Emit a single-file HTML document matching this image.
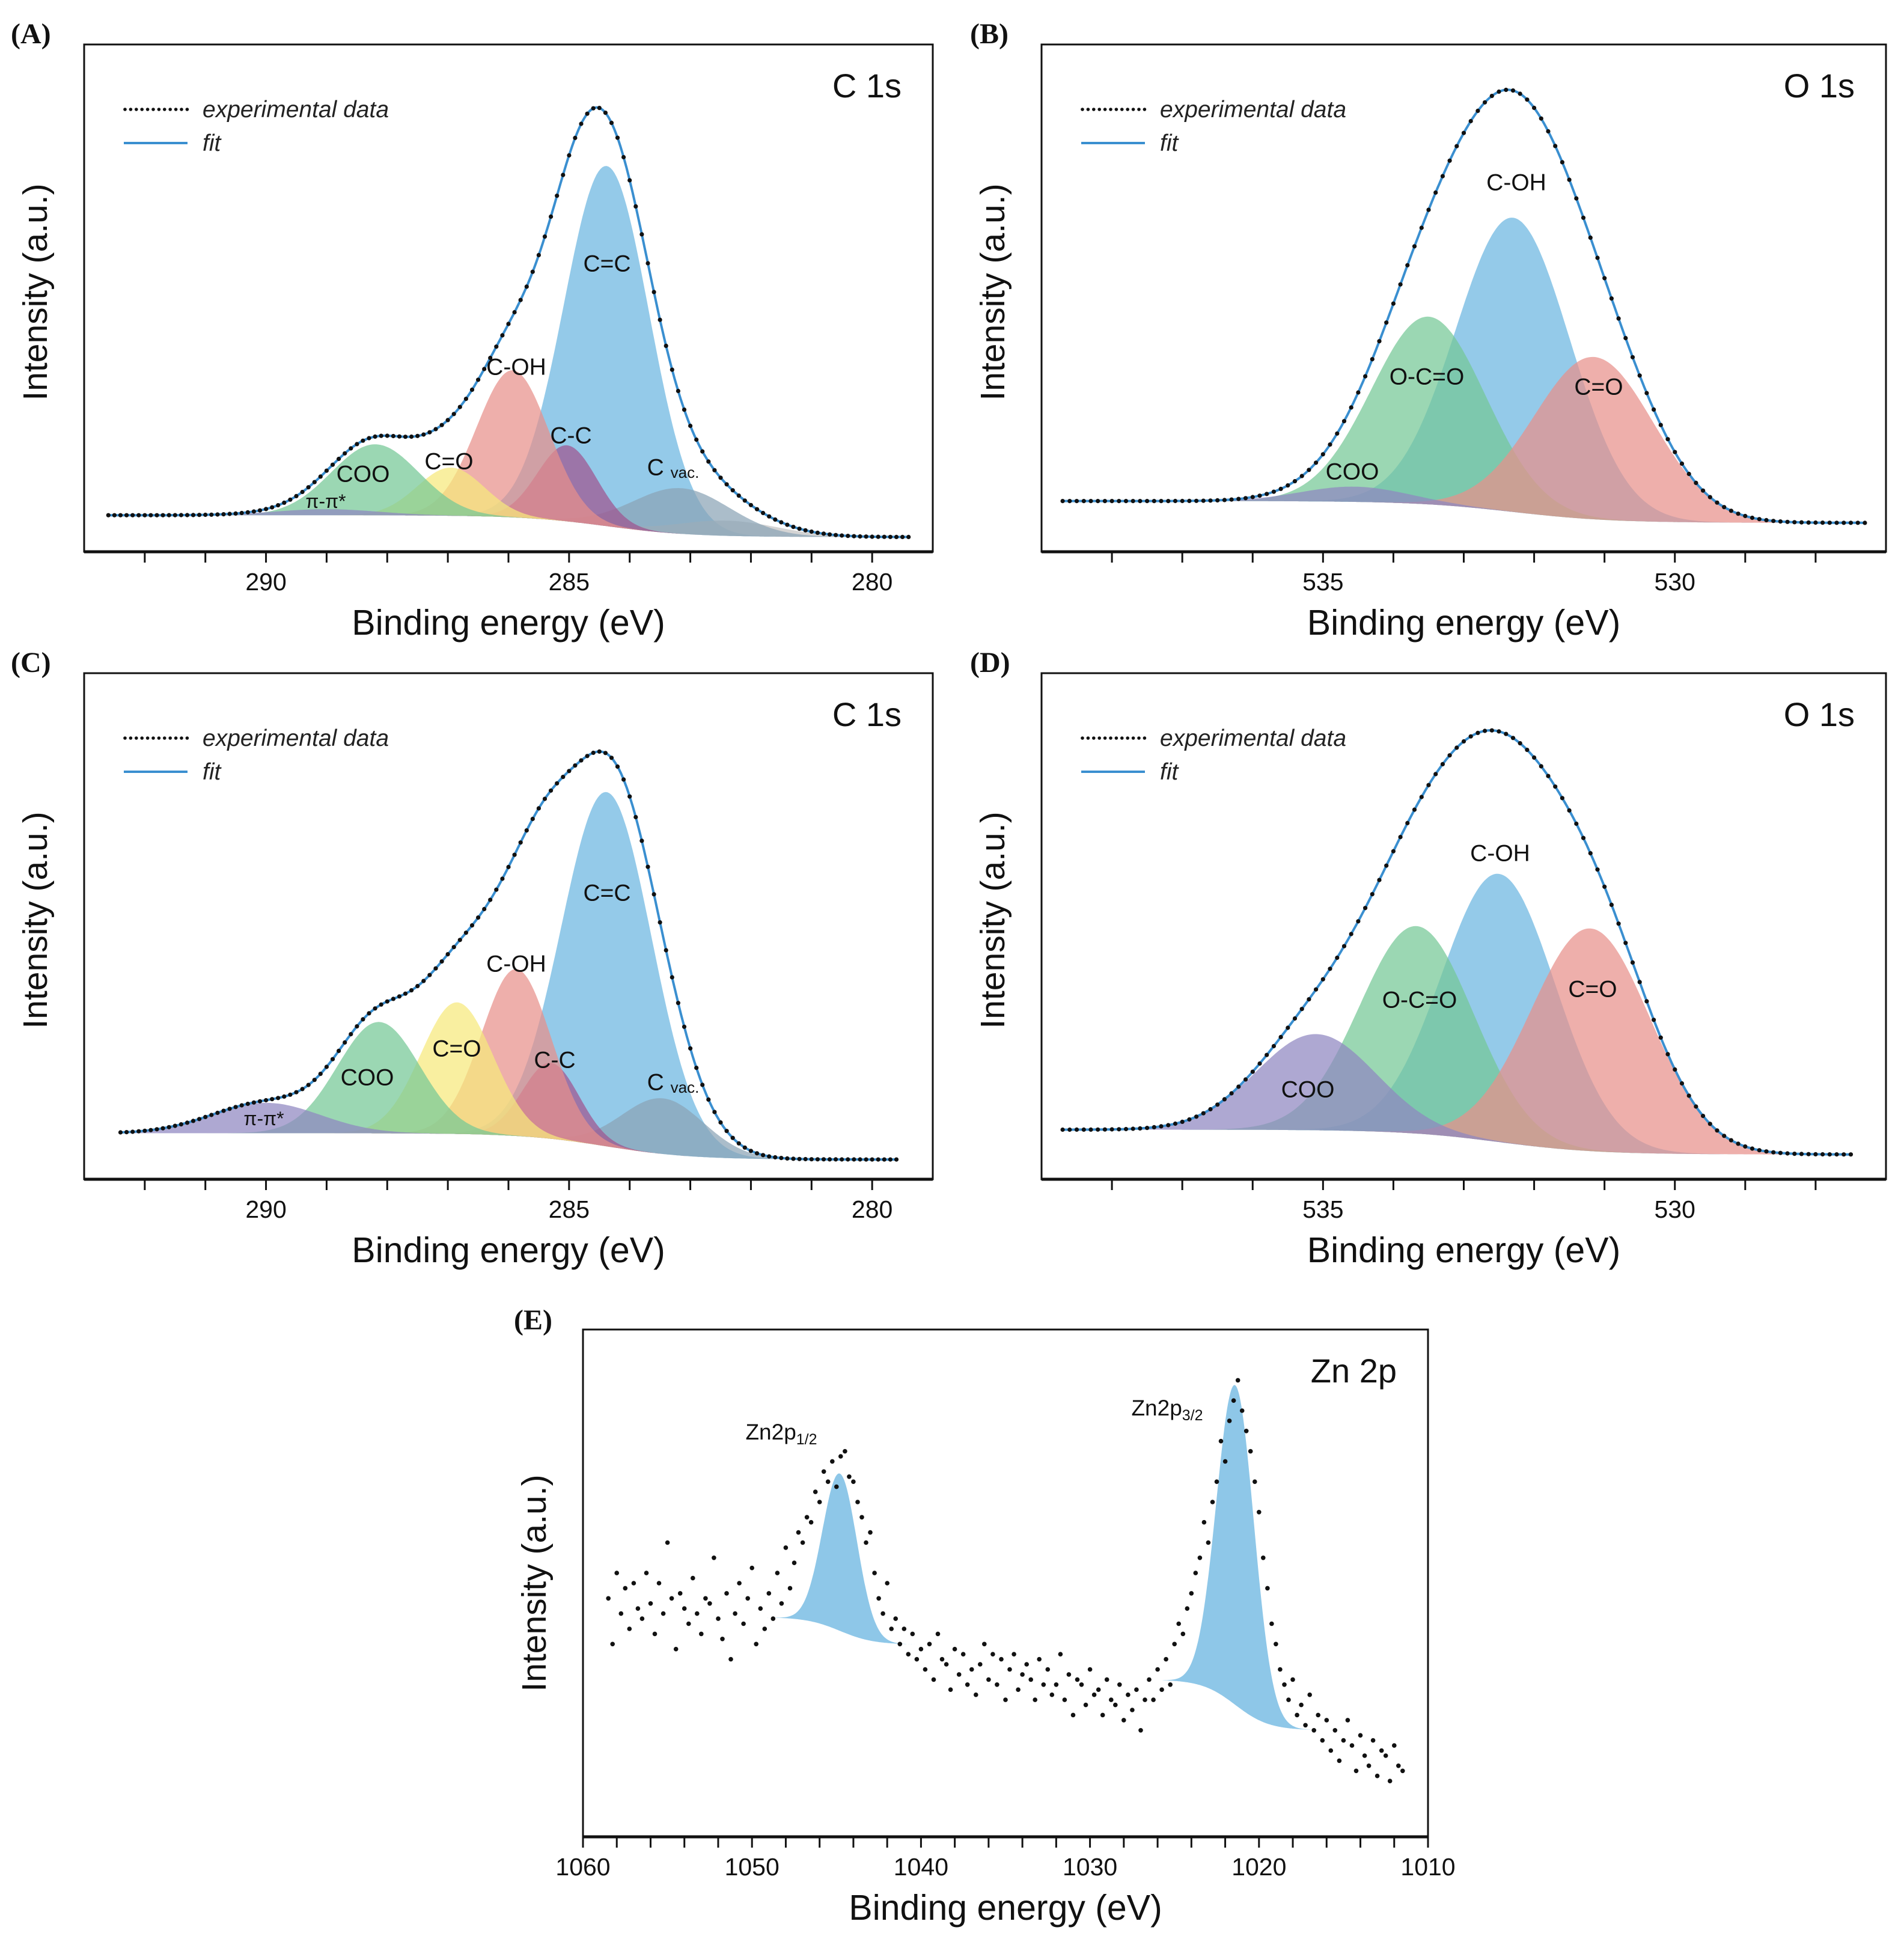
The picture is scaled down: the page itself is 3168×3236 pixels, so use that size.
<!DOCTYPE html>
<html><head><meta charset="utf-8"><style>
html,body{margin:0;padding:0;background:#fff;}
svg{display:block;font-family:"Liberation Sans",Arial,sans-serif;}
</style></head><body>
<svg id="fig" width="3168" height="3236" viewBox="0 0 3168 3236" xmlns="http://www.w3.org/2000/svg"></svg>
<script>
// ---------- Data ----------
// Panel A: C 1s
const aNames   = ["C=C","C-OH","C-C","C=O","COO","π-π*","C vac.","gray"];
const aCenters = [284.38,285.93,285.03,286.95,288.2,289.0,283.15,282.4];
const aHeights = [0.71,0.29,0.15,0.095,0.14,0.012,0.09,0.03];
const aFwhm    = [1.65,1.4,1.15,1.3,1.7,2.0,1.9,2.0];
const aBg      = [0.072,0.029];
// Panel B: O 1s
const bNames   = ["C-OH","O-C=O","C=O","COO"];
const bCenters = [532.3,533.5,531.15,534.55];
const bHeights = [0.58,0.37,0.32,0.03];
const bFwhm    = [1.9,1.9,2.0,1.8];
const bBg      = [0.10,0.057];
// Panel C: C 1s
const cNames   = ["C=C","C-OH","C-C","C=O","COO","π-π*","C vac."];
const cCenters = [284.38,285.87,285.3,286.85,288.14,290.0,283.45];
const cHeights = [0.70,0.33,0.15,0.26,0.22,0.06,0.11];
const cFwhm    = [1.75,1.35,1.1,1.4,1.6,2.1,1.6];
const cBg      = [0.091,0.039];
// Panel D: O 1s
const dNames   = ["C-OH","O-C=O","C=O","COO"];
const dCenters = [532.5,533.67,531.2,535.1];
const dHeights = [0.53,0.41,0.44,0.19];
const dFwhm    = [1.9,1.9,2.0,2.0];
const dBg      = [0.098,0.049];
// Panel E: Zn 2p
const eStart = 1058.5, eStep = 0.25;
const eValues = [
.47,.38,.52,.44, .49,.41,.50,.45, .43,.52,.46,.40, .50,.44,.58,.47, .37,.48,.45,.42,
.51,.44,.40,.47, .46,.55,.43,.39, .48,.35,.44,.50, .42,.47,.53,.38, .45,.41,.48,.43,
.52,.46,.57,.49, .54,.60,.58,.63, .62,.68,.66,.72, .70,.74,.69,.75, .76,.71,.70,.66,
.63,.58,.60,.52, .47,.44,.50,.41, .43,.38,.41,.36, .40,.35,.37,.33, .38,.31,.40,.35,
.34,.29,.37,.32, .36,.30,.33,.28, .34,.38,.31,.36, .30,.35,.27,.33, .36,.29,.32,.34,
.31,.27,.35,.30, .33,.28,.30,.36, .27,.32,.24,.31, .30,.26,.33,.28, .29,.24,.31,.27,
.26,.30,.23,.28, .25,.29,.21,.27, .31,.27,.33,.29, .35,.30,.38,.42, .40,.45,.48,.52,
.55,.62,.58,.66, .70,.78,.74,.82, .86,.90,.84,.80, .76,.70,.64,.55, .49,.42,.38,.33,
.30,.27,.31,.24, .26,.22,.28,.21, .24,.19,.23,.17, .21,.15,.19,.23, .18,.13,.20,.16,
.14,.19,.12,.17, .16,.11,.18,.14, .13];
const eNames   = ["Zn2p1/2","Zn2p3/2"];
const eCenters = [1044.8,1021.4];
const eHeights = [0.31,0.63];
const eFwhm    = [2.4,2.6];
const eBgL     = [0.433,0.31];
const eBgR     = [0.379,0.21];

// ---------- Helpers ----------
const NS="http://www.w3.org/2000/svg";
const svg=document.getElementById('fig');
function mk(tag,attrs,parent){const e=document.createElementNS(NS,tag);for(const k in attrs)e.setAttribute(k,attrs[k]);(parent||svg).appendChild(e);return e;}
function gauss(x,c,h,w){return h*Math.exp(-4*Math.LN2*(x-c)*(x-c)/(w*w));}
function bgStep(ev,c,bl,br){return br+(bl-br)/(1+Math.exp(-(ev-c)/0.7));}

function drawAxes(p){
  const g=mk('g',{});
  
  
  const fr=mk('rect',{x:p.x0,y:p.y0,width:p.x1-p.x0,height:p.y1-p.y0,fill:'none',stroke:'#111','stroke-width':3},g);
  
  
  const bl=mk('line',{x1:p.x0,y1:p.y1,x2:p.x1,y2:p.y1,stroke:'#111','stroke-width':5},g);
  
  
  for(let t=p.tickStart;t>=p.tickEnd-1e-9;t-=p.tickStep){
    const x=p.X(t);
    const tk=mk('line',{x1:x,y1:p.y1,x2:x,y2:p.y1+18,stroke:'#111','stroke-width':3},g);
    
    
  }
  p.labels.forEach(v=>{
    const t=mk('text',{x:p.X(v),y:p.y1+64,'font-size':41,'text-anchor':'middle',fill:'#111'},g);
    t.textContent=v;
    
    
  });
  const xt=mk('text',{x:(p.x0+p.x1)/2,y:p.y1+138,'font-size':59,'text-anchor':'middle',fill:'#111'},g);
  xt.textContent='Binding energy (eV)';
  
  
  const cy=(p.y0+p.y1)/2-(p.id==='panel-e'?0:10);
  const yt=mk('text',{x:p.x0-62,y:cy,'font-size':57,'text-anchor':'middle',fill:'#111',transform:`rotate(-90 ${p.x0-62} ${cy})`},g);
  yt.textContent='Intensity (a.u.)';
  
  
  const pl=mk('text',{x:p.lx,y:p.ly,'font-size':48,'font-weight':'bold','font-family':'"Liberation Serif",serif',fill:'#111'},g);
  pl.textContent=p.letter;
  
  
  const ti=mk('text',{x:p.x1-52,y:p.y0+88,'font-size':56,'text-anchor':'end',fill:'#111'},g);
  ti.textContent=p.title;
  
  
}

function drawLegend(p){
  const g=mk('g',{});
  
  
  const ly=p.y0+108;
  for(let i=0;i<12;i++){
    const d=mk('circle',{cx:p.x0+68+i*9.4,cy:ly,r:2.8,fill:'#111'},g);
    
    
  }
  const t1=mk('text',{x:p.x0+197,y:ly+13,'font-size':39,'font-style':'italic',fill:'#222'},g);
  t1.textContent='experimental data';
  
  
  const l=mk('line',{x1:p.x0+66,y1:ly+56,x2:p.x0+172,y2:ly+56,stroke:'#3a8fd0','stroke-width':4},g);
  
  
  const t2=mk('text',{x:p.x0+197,y:ly+69,'font-size':39,'font-style':'italic',fill:'#222'},g);
  t2.textContent='fit';
  
  
}

function drawFitPanel(p,names,centers,heights,fwhm,bg,colors,order,labelPos,dataRange){
  const mainC=centers[0];
  const bgf=ev=>bgStep(ev,mainC,bg[0],bg[1]);
  const lo=dataRange[1], hi=dataRange[0];
  const N=400;
  const evs=[];for(let i=0;i<=N;i++)evs.push(hi-(hi-lo)*i/N);
  order.forEach(k=>{
    let d='';
    evs.forEach((ev,i)=>{d+=(i?'L':'M')+p.X(ev).toFixed(1)+','+p.Y(bgf(ev)+gauss(ev,centers[k],heights[k],fwhm[k])).toFixed(1);});
    for(let i=N;i>=0;i--){d+='L'+p.X(evs[i]).toFixed(1)+','+p.Y(bgf(evs[i])).toFixed(1);}
    const path=mk('path',{d:d+'Z',fill:colors[k],'fill-opacity':k===order[0]?0.95:0.72,stroke:'none'});
    
    
  });
  const fit=ev=>{let s=bgf(ev);for(let k=0;k<centers.length;k++)s+=gauss(ev,centers[k],heights[k],fwhm[k]);return s;};
  let d='';
  evs.forEach((ev,i)=>{d+=(i?'L':'M')+p.X(ev).toFixed(1)+','+p.Y(fit(ev)).toFixed(1);});
  const fl=mk('path',{d:d,fill:'none',stroke:'#3a8fd0','stroke-width':4});
  
  
  const g=mk('g',{});
  
  
  for(let ev=hi;ev>=lo-1e-9;ev-=0.1){
    const c=mk('circle',{cx:p.X(ev).toFixed(1),cy:p.Y(fit(ev)).toFixed(1),r:3.6,fill:'#111'},g);
    
    
  }
  labelPos.forEach(lp=>{
    const t=mk('text',{x:lp[1],y:lp[2],'font-size':lp[3]||39,'text-anchor':'middle','dominant-baseline':'central',fill:'#111'});
    if(lp[0]==='C vac.'){t.textContent='C ';const s=mk('tspan',{'font-size':26,dy:8},t);s.textContent='vac.';}
    else t.textContent=lp[0];
    
    
  });
  drawLegend(p);
  drawAxes(p);
}

function panel(id,x0,x1,y0,y1,evMax,evMin,o){
  const p=Object.assign({id,x0,x1,y0,y1},o);
  p.X=ev=>x0+(evMax-ev)/(evMax-evMin)*(x1-x0);
  p.Y=v=>y1-v*(y1-y0);
  return p;
}

const BLUE='#8ec7e8',RED='#e8908a',PURP='#a0558f',YEL='#f6e97c',GRN='#74c795',LAV='#8f86c0',SLATE='#8aa3b5',GRAY='#c4c4c4';

const pA=panel('panel-a',140,1552,74,918,293,279,{tickStart:292,tickEnd:280,tickStep:1,labels:[290,285,280],letter:'(A)',lx:18,ly:72,title:'C 1s'});
drawFitPanel(pA,aNames,aCenters,aHeights,aFwhm,aBg,[BLUE,RED,PURP,YEL,GRN,LAV,SLATE,GRAY],[0,7,6,2,1,3,4,5],
 [["COO",604,789],["π-π*",542,834,32],["C=O",747,768],["C-OH",859,611],["C-C",950,725],["C=C",1010,439],["C vac.",1120,778]],[292.6,279.4]);

const pB=panel('panel-b',1733,3138,74,918,539,527,{tickStart:538,tickEnd:528,tickStep:1,labels:[535,530],letter:'(B)',lx:1614,ly:72,title:'O 1s'});
drawFitPanel(pB,bNames,bCenters,bHeights,bFwhm,bBg,[BLUE,GRN,RED,LAV],[0,1,2,3],
 [["C-OH",2523,304],["O-C=O",2374,627],["C=O",2660,644],["COO",2250,785]],[538.7,527.3]);

const pC=panel('panel-c',140,1552,1120,1962,293,279,{tickStart:292,tickEnd:280,tickStep:1,labels:[290,285,280],letter:'(C)',lx:18,ly:1118,title:'C 1s'});
drawFitPanel(pC,cNames,cCenters,cHeights,cFwhm,cBg,[BLUE,RED,PURP,YEL,GRN,LAV,SLATE],[0,6,2,1,3,4,5],
 [["C=C",1010,1486],["C-OH",859,1604],["C-C",923,1764],["C=O",760,1745],["COO",611,1793],["π-π*",439,1861,32],["C vac.",1120,1801]],[292.4,279.6]);

const pD=panel('panel-d',1733,3138,1120,1962,539,527,{tickStart:538,tickEnd:528,tickStep:1,labels:[535,530],letter:'(D)',lx:1614,ly:1118,title:'O 1s'});
drawFitPanel(pD,dNames,dCenters,dHeights,dFwhm,dBg,[BLUE,GRN,RED,LAV],[0,1,2,3],
 [["C-OH",2496,1420],["O-C=O",2362,1664],["C=O",2650,1646],["COO",2176,1813]],[538.7,527.5]);

// Panel E
const pE=panel('panel-e',970,2376,2212,3056,1060,1010,{tickStart:1060,tickEnd:1010,tickStep:2,labels:[1060,1050,1040,1030,1020,1010],letter:'(E)',lx:855,ly:2212,title:'Zn 2p'});
eCenters.forEach((c,k)=>{
  const lo=c-5.0, hi=c+4.3, N=200;
  let top='',bot='';
  const pts=[];
  for(let i=0;i<=N;i++){const ev=hi-(hi-lo)*i/N;pts.push(ev);}
  const bgf=ev=>eBgR[k]+(eBgL[k]-eBgR[k])/(1+Math.exp(-(ev-c)/1.0));
  pts.forEach((ev,i)=>{top+=(i?'L':'M')+pE.X(ev).toFixed(1)+','+pE.Y(bgf(ev)+gauss(ev,c,eHeights[k],eFwhm[k])).toFixed(1);});
  for(let i=N;i>=0;i--)bot+='L'+pE.X(pts[i]).toFixed(1)+','+pE.Y(bgf(pts[i])).toFixed(1);
  const path=mk('path',{d:top+bot+'Z',fill:BLUE,stroke:'none'});
  
  
});
const gE=mk('g',{});


eValues.forEach((v,i)=>{
  const c=mk('circle',{cx:pE.X(eStart-i*eStep).toFixed(1),cy:pE.Y(v).toFixed(1),r:3.8,fill:'#111'},gE);
  
  
});
[["Zn2p","1/2",1300,2395],["Zn2p","3/2",1942,2355]].forEach((l,i)=>{
  const t=mk('text',{x:l[2],y:l[3],'font-size':37,'text-anchor':'middle',fill:'#111'});
  t.textContent=l[0];
  const s=mk('tspan',{'font-size':25,dy:8},t);s.textContent=l[1];
  
  
});
drawAxes(pE);
</script>
</body></html>
